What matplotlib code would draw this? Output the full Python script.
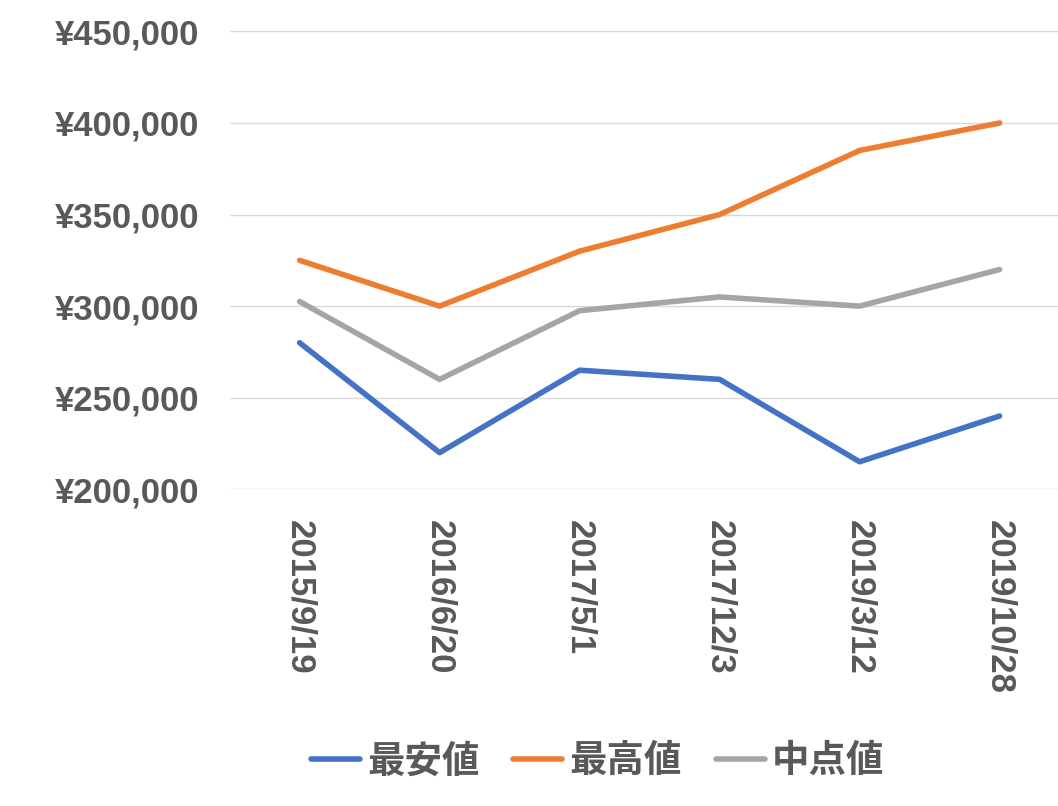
import matplotlib.pyplot as plt
from matplotlib.ticker import FuncFormatter

dates = ["2015/9/19", "2016/6/20", "2017/5/1", "2017/12/3", "2019/3/12", "2019/10/28"]
low = [280000, 220000, 265000, 260000, 215000, 240000]
high = [325000, 300000, 330000, 350000, 385000, 400000]
mid = [302500, 260000, 297500, 305000, 300000, 320000]

plt.rcParams["font.family"] = ["Noto Sans CJK JP"]
fig = plt.figure(figsize=(10.58, 8.06), dpi=100)
ax = fig.add_axes([0.217, 0.393, 0.794, 0.568])

x = range(len(dates))
ax.plot(x, low, color="#4472C4", lw=4, label="最安値", solid_capstyle="round")
ax.plot(x, high, color="#ED7D31", lw=4, label="最高値", solid_capstyle="round")
ax.plot(x, mid, color="#A5A5A5", lw=4, label="中点値", solid_capstyle="round")

ax.set_xlim(-0.5, 5.5)
ax.set_ylim(200000, 450000)
ax.set_yticks(range(200000, 450001, 50000))
ax.yaxis.set_major_formatter(FuncFormatter(lambda v, p: "¥{:,.0f}".format(v)))
ax.set_xticks(list(x))
ax.set_xticklabels(dates, rotation=270)
ax.grid(axis="y", color="#D9D9D9", lw=1)
ax.set_axisbelow(True)
for s in ax.spines.values():
    s.set_visible(False)
ax.tick_params(length=0, labelsize=25, labelcolor="#595959", pad=22)
for t in ax.get_xticklabels() + ax.get_yticklabels():
    t.set_fontweight("bold")
    t.set_fontfamily("Liberation Sans")

fig.legend(loc="lower center", bbox_to_anchor=(0.565, -0.01), ncol=3, frameon=False,
           prop={"size": 27, "weight": "bold"}, labelcolor="#595959",
           handlelength=1.3, columnspacing=0.9, handletextpad=0.2)
fig.savefig("out.png", dpi=100)
